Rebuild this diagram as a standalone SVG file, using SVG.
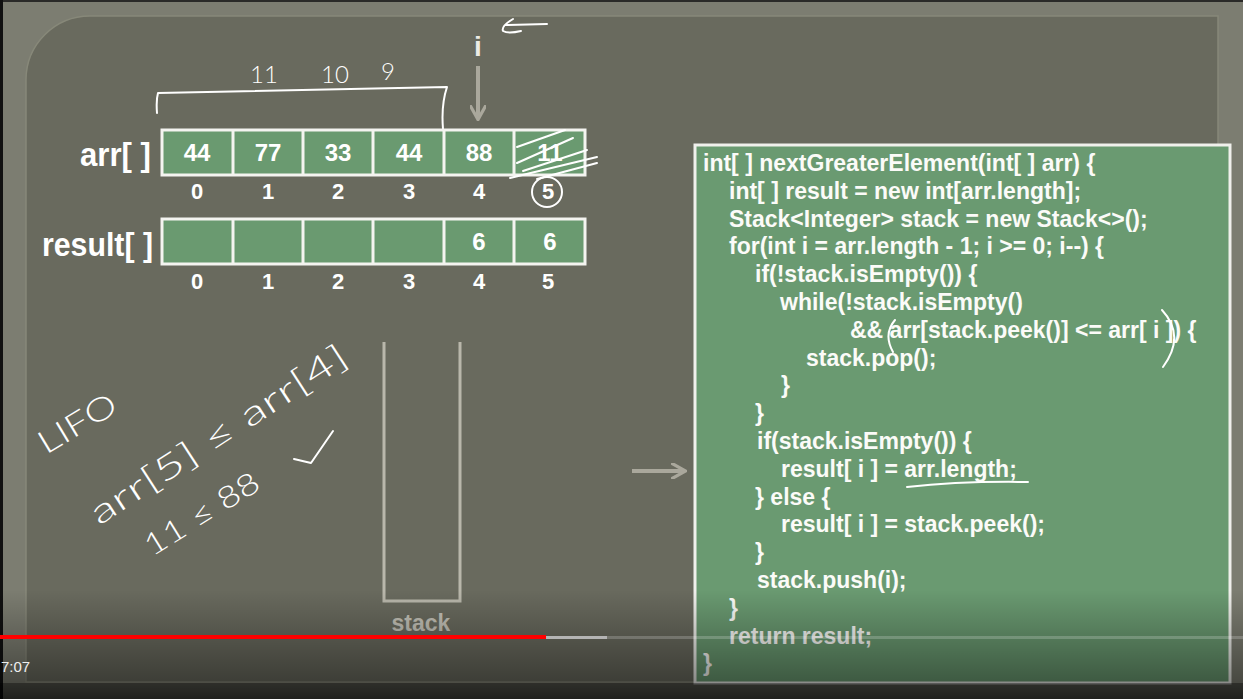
<svg xmlns="http://www.w3.org/2000/svg" width="1243" height="699" viewBox="0 0 1243 699">
<defs>
<style>
.cell{fill:#6a9a70;stroke:#f4f4f0;stroke-width:3}
.div{stroke:#f4f4f0;stroke-width:3}
.val{font-family:"Liberation Sans",Arial,sans-serif;font-weight:bold;font-size:24px;fill:#ffffff;text-anchor:middle}
.idx{font-family:"Liberation Sans",Arial,sans-serif;font-weight:bold;font-size:22px;fill:#ffffff;text-anchor:middle}
.lbl{font-family:"Liberation Sans",Arial,sans-serif;font-weight:bold;font-size:34px;fill:#ffffff;text-anchor:end}
.code{font-family:"Liberation Sans",Arial,sans-serif;font-weight:bold;font-size:23px;fill:#fbfbf8}
.hand{font-family:Lato,"Open Sans",sans-serif;font-weight:300;fill:#ffffff}
.ink{fill:none;stroke:#ffffff;stroke-width:2;stroke-linecap:round;stroke-linejoin:round}
.gray{fill:none;stroke:#aaa89c;stroke-width:4}
</style>
<marker id="ah" viewBox="0 0 10 10" refX="8" refY="5" markerWidth="4" markerHeight="4" orient="auto">
<path d="M0,0 L9,5 L0,10" fill="none" stroke="#aaa89c" stroke-width="2"/>
</marker>
<linearGradient id="fade" x1="0" y1="0" x2="0" y2="1">
<stop offset="0" stop-color="#000" stop-opacity="0"/>
<stop offset="0.4" stop-color="#000" stop-opacity="0.2"/>
<stop offset="0.85" stop-color="#000" stop-opacity="0.42"/>
<stop offset="1" stop-color="#000" stop-opacity="0.6"/>
</linearGradient>
</defs>

<!-- background frame -->
<rect x="0" y="0" width="1243" height="699" fill="#7c7d71"/>
<rect x="0" y="0" width="1243" height="2" fill="#2a2a28"/>
<rect x="0" y="0" width="3" height="699" fill="#111111"/>
<path d="M26,682 V80 A64,64 0 0 1 90,16 H1218 V682 Z" fill="#696a5e" stroke="#878879" stroke-width="1.5"/>

<!-- handwritten top marks -->
<g id="annotations-top">
<path class="ink" d="M513,19 Q501,26 503,31 Q508,34 521,31 M506,25 L547,24"/>
<path class="ink" d="M157,113 Q156,100 158,93 L447,87 Q441,105 443,129"/>
<text class="hand" x="250" y="83" font-size="24">11</text>
<text class="hand" x="321" y="83" font-size="24">10</text>
<text class="hand" x="381" y="80" font-size="24">9</text>
</g>

<!-- arr row -->
<g id="arr-row">
<text class="lbl" x="151" y="166" textLength="71" lengthAdjust="spacingAndGlyphs">arr[ ]</text>
<rect class="cell" x="162" y="130" width="423" height="45"/>
<path class="div" d="M233,130V175M303,130V175M373,130V175M444,130V175M514,130V175"/>
<text class="val" x="197" y="161">44</text>
<text class="val" x="268" y="161">77</text>
<text class="val" x="338" y="161">33</text>
<text class="val" x="409" y="161">44</text>
<text class="val" x="479" y="161">88</text>
<text class="val" x="550" y="161">11</text>
<path class="ink" d="M517,147 L565,130 M517,163 L573,138 M523,171 L587,150 M510,178 L597,157 M537,179 L597,163"/>
<text class="idx" x="197" y="199">0</text>
<text class="idx" x="268" y="199">1</text>
<text class="idx" x="338" y="199">2</text>
<text class="idx" x="409" y="199">3</text>
<text class="idx" x="479" y="199">4</text>
<text class="idx" x="548" y="199">5</text>
<circle class="ink" cx="547" cy="192" r="15"/>
</g>

<!-- result row -->
<g id="result-row">
<text class="lbl" x="153" y="256" textLength="111" lengthAdjust="spacingAndGlyphs">result[ ]</text>
<rect class="cell" x="162" y="219" width="423" height="45"/>
<path class="div" d="M233,219V264M303,219V264M373,219V264M444,219V264M514,219V264"/>
<text class="val" x="479" y="250">6</text>
<text class="val" x="550" y="250">6</text>
<text class="idx" x="197" y="289">0</text>
<text class="idx" x="268" y="289">1</text>
<text class="idx" x="338" y="289">2</text>
<text class="idx" x="409" y="289">3</text>
<text class="idx" x="479" y="289">4</text>
<text class="idx" x="548" y="289">5</text>
</g>

<!-- i pointer -->
<g id="pointer-i">
<text x="478" y="56" font-family="'Liberation Sans',Arial,sans-serif" font-weight="bold" font-size="28" fill="#ecebe4" text-anchor="middle">i</text>
</g>

<!-- stack -->
<g id="stack">
<path d="M384,342 V601 H460 V342" fill="none" stroke="#b9b7ab" stroke-width="3"/>
<text x="421" y="631" font-family="'Liberation Sans',Arial,sans-serif" font-weight="bold" font-size="23" fill="#c4c2b8" text-anchor="middle">stack</text>
</g>

<!-- handwritten notes -->
<g id="notes">
<text class="hand" font-size="32" transform="translate(46,455) rotate(-31)" textLength="86" lengthAdjust="spacingAndGlyphs">LIFO</text>
<text class="hand" font-size="34" transform="translate(99,526) rotate(-33)" textLength="300" lengthAdjust="spacingAndGlyphs">arr[5] ≤ arr[4]</text>
<text class="hand" font-size="30" transform="translate(152,557) rotate(-32)" textLength="130" lengthAdjust="spacingAndGlyphs">11 ≤ 88</text>
<path class="ink" d="M294,459 L311,463 L333,431"/>
</g>

<!-- code box -->
<g id="code-box">
<rect x="695" y="145" width="535" height="538" fill="#6a9a71" stroke="#f0f0ec" stroke-width="3"/>
<text class="code" x="703" y="171">int[ ] nextGreaterElement(int[ ] arr) {</text>
<text class="code" x="729" y="199">int[ ] result = new int[arr.length];</text>
<text class="code" x="729" y="227">Stack&lt;Integer&gt; stack = new Stack&lt;&gt;();</text>
<text class="code" x="729" y="254">for(int i = arr.length - 1; i &gt;= 0; i--) {</text>
<text class="code" x="755" y="282">if(!stack.isEmpty()) {</text>
<text class="code" x="780" y="310">while(!stack.isEmpty()</text>
<text class="code" x="850" y="338">&amp;&amp; arr[stack.peek()] &lt;= arr[ i ]) {</text>
<text class="code" x="806" y="366">stack.pop();</text>
<text class="code" x="781" y="393">}</text>
<text class="code" x="755" y="421">}</text>
<text class="code" x="757" y="449">if(stack.isEmpty()) {</text>
<text class="code" x="781" y="477">result[ i ] = arr.length;</text>
<text class="code" x="755" y="505">} else {</text>
<text class="code" x="781" y="532">result[ i ] = stack.peek();</text>
<text class="code" x="755" y="560">}</text>
<text class="code" x="757" y="588">stack.push(i);</text>
<text class="code" x="729" y="616">}</text>
<text class="code" x="729" y="644">return result;</text>
<text class="code" x="703" y="671">}</text>
<path class="ink" d="M895,320 Q883,334 893,352 M1162,310 Q1186,336 1163,367 M907,487 Q960,481 1028,482"/>
</g>

<!-- connectors -->
<g id="connectors">
<path class="gray" d="M478,66 V118" marker-end="url(#ah)"/>
<path class="gray" d="M632,471 H684" marker-end="url(#ah)"/>
</g>

<!-- video overlay -->
<g id="player">
<rect x="0" y="590" width="1243" height="109" fill="url(#fade)"/>
<rect x="0" y="683" width="1243" height="16" fill="#000" opacity="0.35"/>
<rect x="0" y="636" width="1243" height="3" fill="#ffffff" opacity="0.2"/>
<rect x="546" y="636" width="61" height="3" fill="#b4b4b4"/>
<rect x="0" y="635" width="546" height="4" fill="#ff0000"/>
<text x="1" y="672" font-family="'Liberation Sans',Arial,sans-serif" font-size="15" fill="#eeeeee">7:07</text>
</g>
</svg>
